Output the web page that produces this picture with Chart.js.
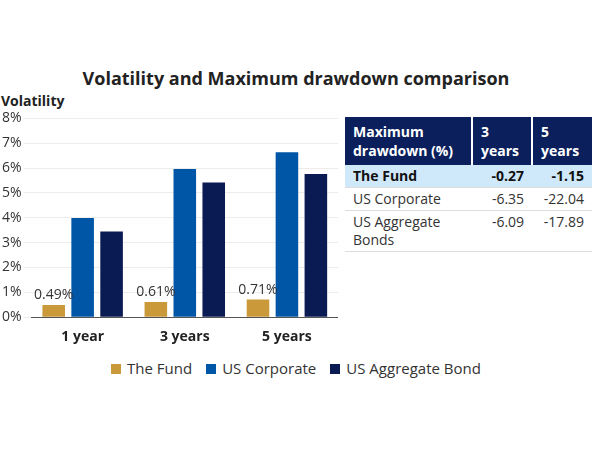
<!DOCTYPE html>
<html lang="en">
<head>
<meta charset="UTF-8">
<script src="https://cdn.jsdelivr.net/npm/chart.js"></script>
<style>
  body { margin: 0; width: 592px; height: 450px; font-family: "Open Sans", sans-serif; color: #333; position: relative; overflow: hidden; background: #fff; }
  #title { position: absolute; top: 66px; left: 0; width: 592px; text-align: center; font-weight: bold; font-size: 18px; color: #222; }
  #ylab { position: absolute; top: 91px; left: 1px; font-weight: bold; font-size: 14px; color: #222; }
  #wrap { position: absolute; top: 108px; left: 0; width: 338px; height: 240px; }
  #legend { position: absolute; top: 358px; left: 0; width: 592px; text-align: center; font-size: 15px; }
  #legend span { margin: 0 7px; }
  #legend i { display: inline-block; width: 10px; height: 10px; margin-right: 6px; }
  table { position: absolute; top: 117px; left: 345px; width: 247px; border-collapse: collapse; font-size: 14px; }
  th { background: #0a1f5c; color: #fff; text-align: left; padding: 4px 8px; font-weight: bold; border-left: 2px solid #fff; height: 40px; }
  th:first-child { border-left: none; }
  td { padding: 2px 8px; border-bottom: 1px solid #ddd; vertical-align: top; line-height: 18px; }
  td.n { text-align: right; }
  tr.hl td { background: #cfe9fa; font-weight: bold; color: #111; }
</style>
</head>
<body>
<div id="title">Volatility and Maximum drawdown comparison</div>
<div id="ylab">Volatility</div>
<div id="wrap"><canvas id="c"></canvas></div>
<table id="tbl"></table>
<div id="legend"></div>
<script>
const categories = ["1 year", "3 years", "5 years"];
const seriesNames = ["The Fund", "US Corporate", "US Aggregate Bond"];
const fund = [0.49, 0.61, 0.71];
const corporate = [3.99, 5.96, 6.64];
const aggregate = [3.45, 5.42, 5.76];
const colors = ["#c9993a", "#0056a6", "#0a1a52"];

const tableHeader = ["Maximum drawdown (%)", "3 years", "5 years"];
const tableRows = [
  ["The Fund", "-0.27", "-1.15"],
  ["US Corporate", "-6.35", "-22.04"],
  ["US Aggregate Bonds", "-6.09", "-17.89"]
];

// table
let html = "<tr>" + tableHeader.map(h => `<th>${h}</th>`).join("") + "</tr>";
tableRows.forEach((r, i) => {
  html += `<tr class="${i === 0 ? 'hl' : ''}"><td>${r[0]}</td><td class="n">${r[1]}</td><td class="n">${r[2]}</td></tr>`;
});
document.getElementById("tbl").innerHTML = html;

// legend
document.getElementById("legend").innerHTML = seriesNames.map((n, i) =>
  `<span><i style="background:${colors[i]}"></i>${n}</span>`).join("");

const fundLabels = {
  id: "fundLabels",
  afterDatasetsDraw(chart) {
    const ctx = chart.ctx;
    const meta = chart.getDatasetMeta(0);
    ctx.save();
    ctx.font = "14px 'Open Sans'";
    ctx.fillStyle = "#333";
    ctx.textAlign = "center";
    ctx.textBaseline = "bottom";
    meta.data.forEach((bar, i) => {
      ctx.fillText(fund[i].toFixed(2) + "%", bar.x, bar.y - 3);
    });
    ctx.restore();
  }
};

new Chart(document.getElementById("c"), {
  type: "bar",
  data: {
    labels: categories,
    datasets: [fund, corporate, aggregate].map((d, i) => ({
      label: seriesNames[i], data: d, backgroundColor: colors[i],
      categoryPercentage: 0.85, barPercentage: 0.78
    }))
  },
  options: {
    responsive: true, maintainAspectRatio: false, animation: false,
    plugins: { legend: { display: false }, tooltip: { enabled: false } },
    scales: {
      x: {
        grid: { display: false },
        border: { color: "#555" },
        ticks: { color: "#222", font: { size: 14, weight: "bold", family: "Open Sans" } }
      },
      y: {
        min: 0, max: 8,
        border: { display: false },
        grid: { color: "#ececec" },
        ticks: { stepSize: 1, color: "#333", padding: 2, font: { size: 14, family: "Open Sans" }, callback: v => v + "%" }
      }
    }
  },
  plugins: [fundLabels]
});
</script>
</body>
</html>
